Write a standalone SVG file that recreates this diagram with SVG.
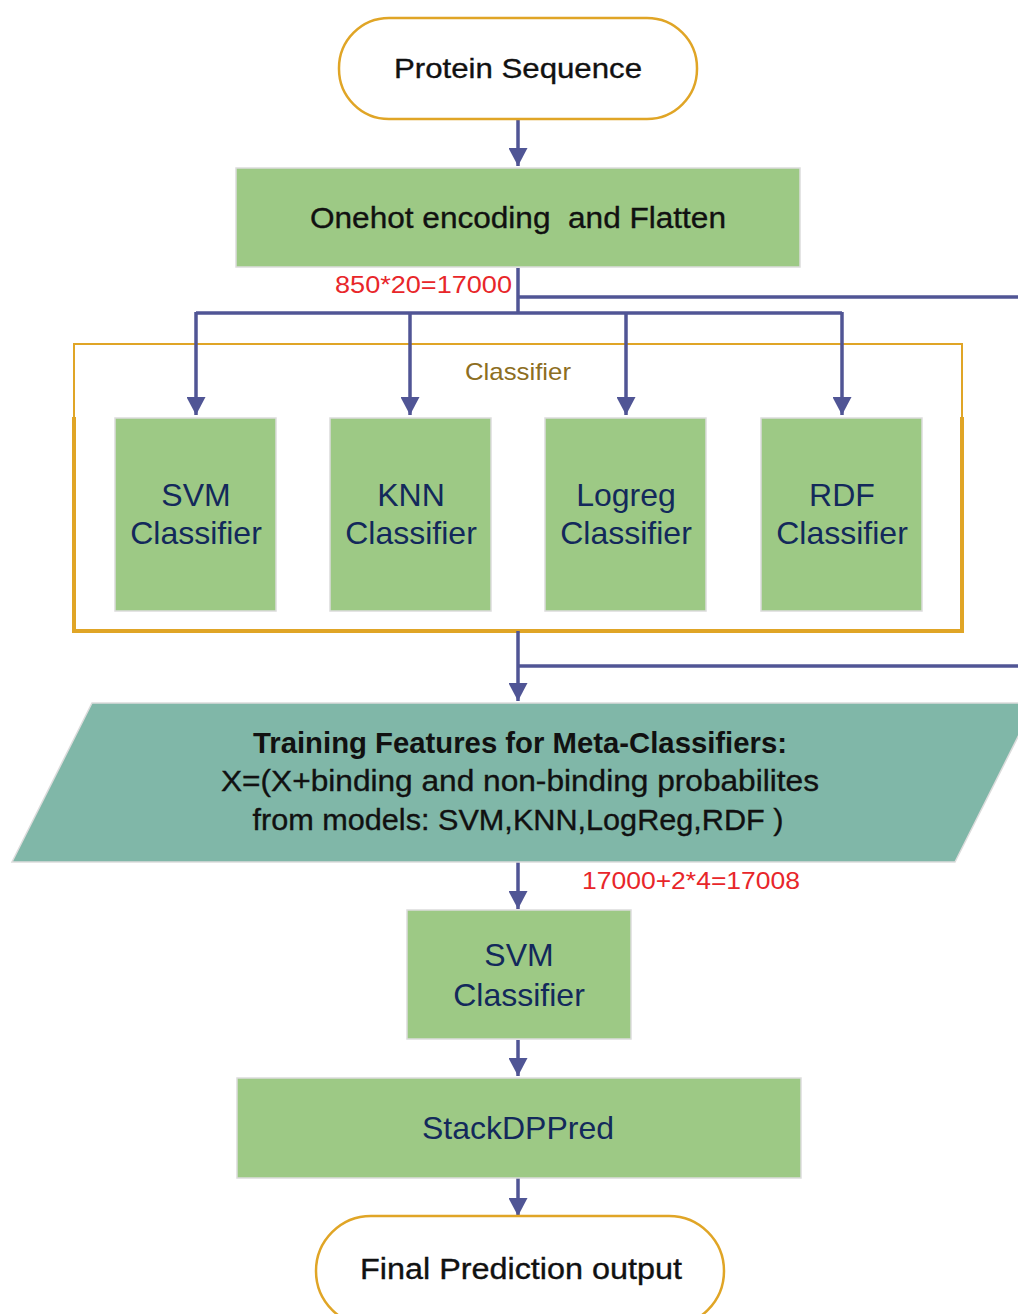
<svg xmlns="http://www.w3.org/2000/svg" width="1018" height="1314" viewBox="0 0 1018 1314">
<style>
.term{fill:#fff;stroke:#E0A526;stroke-width:2.5}
.proc{fill:#9DC985;stroke:#dcdcdc;stroke-width:1.5}
.para{fill:#80B7A8;stroke:#dcdcdc;stroke-width:1.5}
.conn{fill:none;stroke:#505595;stroke-width:3.5}
.t{font-family:"Liberation Sans",Arial,sans-serif;text-anchor:middle}
.blk{fill:#111;stroke:#111;stroke-width:0.35}
.navy{fill:#13295B;font-size:32px}
.red{fill:#E8262A;font-family:"Liberation Sans",Arial,sans-serif;font-size:23px}
</style>
<defs>
<marker id="ah" markerUnits="userSpaceOnUse" markerWidth="19" markerHeight="19" refX="18" refY="9.5" orient="auto">
<path d="M0,0 L18,9.5 L0,19 z" fill="#505595"/>
</marker>
</defs>

<g id="classifier-group">
<rect x="74" y="344" width="888" height="287" fill="none" stroke="#E0A526" stroke-width="2"/>
<path d="M74,417 V631 H962 V417" fill="none" stroke="#E0A526" stroke-width="4"/>
<text class="t" x="518" y="380" font-size="24" fill="#8D6E22" textLength="106" lengthAdjust="spacingAndGlyphs">Classifier</text>
</g>

<g id="connectors">
<line class="conn" x1="518" y1="120" x2="518" y2="166" marker-end="url(#ah)"/>
<line class="conn" x1="518" y1="268" x2="518" y2="313"/>
<line class="conn" x1="518" y1="297" x2="1018" y2="297"/>
<line class="conn" x1="196" y1="313" x2="842" y2="313"/>
<line class="conn" x1="196" y1="312" x2="196" y2="415" marker-end="url(#ah)"/>
<line class="conn" x1="410" y1="312" x2="410" y2="415" marker-end="url(#ah)"/>
<line class="conn" x1="626" y1="312" x2="626" y2="415" marker-end="url(#ah)"/>
<line class="conn" x1="842" y1="312" x2="842" y2="415" marker-end="url(#ah)"/>
<line class="conn" x1="518" y1="631" x2="518" y2="701" marker-end="url(#ah)"/>
<line class="conn" x1="518" y1="666" x2="1018" y2="666"/>
<line class="conn" x1="518" y1="862" x2="518" y2="909" marker-end="url(#ah)"/>
<line class="conn" x1="518" y1="1040" x2="518" y2="1076" marker-end="url(#ah)"/>
<line class="conn" x1="518" y1="1178" x2="518" y2="1216" marker-end="url(#ah)"/>
</g>

<g id="protein-sequence">
<rect class="term" x="339" y="18" width="358" height="101" rx="50"/>
<text class="t blk" x="518" y="78" font-size="28" textLength="248" lengthAdjust="spacingAndGlyphs">Protein Sequence</text>
</g>

<g id="onehot">
<rect class="proc" x="236" y="168" width="564" height="99"/>
<text class="t blk" x="518" y="228" font-size="29" textLength="416" lengthAdjust="spacingAndGlyphs" xml:space="preserve">Onehot encoding  and Flatten</text>
</g>

<text id="label-17000" class="red" x="512" y="293" text-anchor="end" textLength="177" lengthAdjust="spacingAndGlyphs">850*20=17000</text>

<g id="svm1">
<rect class="proc" x="115" y="418" width="161" height="193"/>
<text class="t navy" x="196" y="506">SVM</text>
<text class="t navy" x="196" y="544">Classifier</text>
</g>
<g id="knn">
<rect class="proc" x="330" y="418" width="161" height="193"/>
<text class="t navy" x="411" y="506">KNN</text>
<text class="t navy" x="411" y="544">Classifier</text>
</g>
<g id="logreg">
<rect class="proc" x="545" y="418" width="161" height="193"/>
<text class="t navy" x="626" y="506">Logreg</text>
<text class="t navy" x="626" y="544">Classifier</text>
</g>
<g id="rdf">
<rect class="proc" x="761" y="418" width="161" height="193"/>
<text class="t navy" x="842" y="506">RDF</text>
<text class="t navy" x="842" y="544">Classifier</text>
</g>

<g id="training-features">
<polygon class="para" points="92,703 1035,703 955,862 12,862"/>
<text class="t" x="520" y="753" font-size="30" font-weight="bold" fill="#111" textLength="534" lengthAdjust="spacingAndGlyphs">Training Features for Meta-Classifiers:</text>
<text class="t blk" x="520" y="791" font-size="29" textLength="598" lengthAdjust="spacingAndGlyphs">X=(X+binding and non-binding probabilites</text>
<text class="t blk" x="518" y="830" font-size="29" textLength="531" lengthAdjust="spacingAndGlyphs">from models: SVM,KNN,LogReg,RDF )</text>
</g>

<text id="label-17008" class="red" x="582" y="889" textLength="218" lengthAdjust="spacingAndGlyphs">17000+2*4=17008</text>

<g id="svm-meta">
<rect class="proc" x="407" y="910" width="224" height="129"/>
<text class="t navy" x="519" y="966">SVM</text>
<text class="t navy" x="519" y="1006">Classifier</text>
</g>

<g id="stackdppred">
<rect class="proc" x="237" y="1078" width="564" height="100"/>
<text class="t navy" x="518" y="1139">StackDPPred</text>
</g>

<g id="final-output">
<rect class="term" x="316" y="1216" width="408" height="110" rx="55"/>
<text class="t blk" x="521" y="1279" font-size="29" textLength="322" lengthAdjust="spacingAndGlyphs">Final Prediction output</text>
</g>
</svg>
